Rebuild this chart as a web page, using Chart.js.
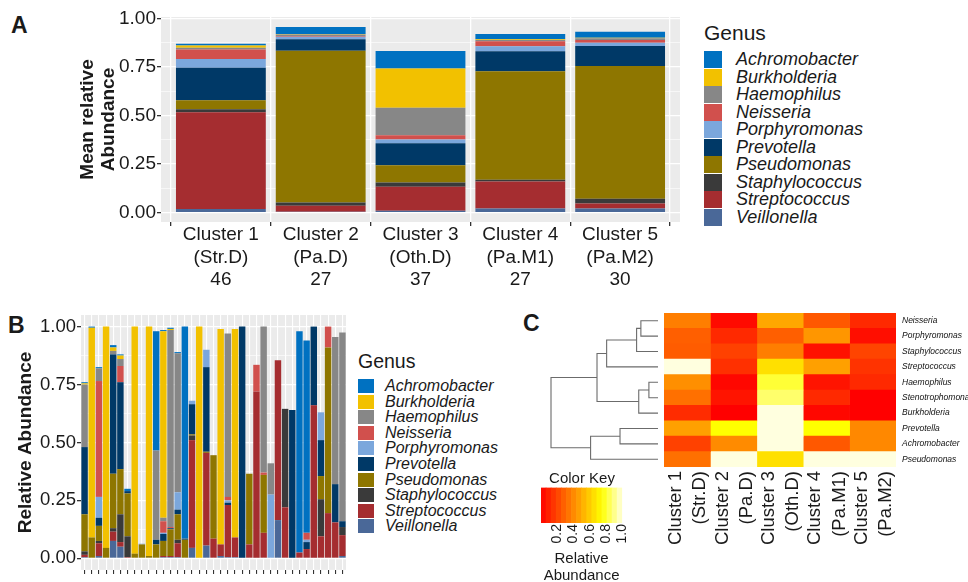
<!DOCTYPE html>
<html>
<head>
<meta charset="utf-8">
<script src="https://cdn.jsdelivr.net/npm/chart.js@4"></script>
<style>
  html, body { margin: 0; padding: 0; background: #fff; }
  #page { position: relative; width: 968px; height: 582px; overflow: hidden;
          font-family: "Liberation Sans", Arial, sans-serif; color: #1a1a1a; }
  canvas { position: absolute; }
  .tag { position: absolute; font-weight: bold; font-size: 23px; line-height: 1; }
  .legend { position: absolute; }
  .legend .ttl { position: absolute; left: 0; white-space: nowrap; }
  .legend .row { position: absolute; left: 0; display: flex; align-items: center; white-space: nowrap; font-style: italic; }
  .legend .sw { display: inline-block; }
</style>
</head>
<body>
<div id="page">
  <div class="tag" style="left:11px;top:14px">A</div>
  <div class="tag" style="left:8px;top:314px">B</div>
  <div class="tag" style="left:523px;top:312px">C</div>

  <canvas id="chartA" width="690" height="300" style="left:0;top:0"></canvas>
  <div id="legendA" class="legend" style="left:704px;top:0"></div>

  <canvas id="chartB" width="352" height="282" style="left:0;top:300px"></canvas>
  <div id="legendB" class="legend" style="left:358px;top:300px"></div>

  <canvas id="chartHeat" width="368" height="282" style="left:600px;top:300px"></canvas>
  <canvas id="chartTree" width="125" height="154" style="left:540px;top:313px"></canvas>
  <canvas id="chartKey" width="110" height="121" style="left:530px;top:465px"></canvas>
</div>

<script>
// ---- data ----
// stack order, bottom -> top (legend shows it reversed)
const genera = ["Veillonella", "Streptococcus", "Staphylococcus", "Pseudomonas", "Prevotella",
  "Porphyromonas", "Neisseria", "Haemophilus", "Burkholderia", "Achromobacter"];
const genusColors = ["#4a6898", "#a52d30", "#3a3a3a", "#8e7600", "#003967",
  "#7ba7dc", "#d1504d", "#878787", "#f2c100", "#0071c1"];

const clusterNames = ["Cluster 1", "Cluster 2", "Cluster 3", "Cluster 4", "Cluster 5"];
const clusterGroups = ["(Str.D)", "(Pa.D)", "(Oth.D)", "(Pa.M1)", "(Pa.M2)"];
const clusterSizes = [46, 27, 37, 27, 30];
const abundanceTicks = [0, 0.25, 0.5, 0.75, 1];

// A: mean relative abundance per cluster
const meanVeillonella    = [0.019, 0.005, 0.010, 0.022, 0.021];
const meanStreptococcus  = [0.498, 0.031, 0.124, 0.138, 0.026];
const meanStaphylococcus = [0.016, 0.016, 0.022, 0.010, 0.025];
const meanPseudomonas    = [0.046, 0.782, 0.088, 0.558, 0.683];
const meanPrevotella     = [0.167, 0.060, 0.114, 0.103, 0.103];
const meanPorphyromonas  = [0.046, 0.012, 0.019, 0.026, 0.017];
const meanNeisseria      = [0.048, 0.004, 0.022, 0.026, 0.014];
const meanHaemophilus    = [0.009, 0.008, 0.141, 0.007, 0.009];
const meanBurkholderia   = [0.012, 0.003, 0.203, 0.003, 0.003];
const meanAchromobacter  = [0.009, 0.035, 0.090, 0.028, 0.031];

// B: relative abundance per sample (37 samples)
const sampleVeillonella    = [0.005,0,0.01,0,0.075,0.05,0,0,0,0,0,0.005,0.005,0.005,0,0.045,0,0.055,0,0.01,0.005,0.005,0,0,0,0,0,0.165,0,0,0,0,0,0,0,0,0.01];
const sampleStreptococcus  = [0.01,0,0.055,0,0.04,0.02,0.005,0,0,0,0,0.005,0.005,0.06,0,0.465,0,0.40,0.085,0.05,0.225,0.085,0,0.06,0.72,0.11,0,0.69,0.22,0,0.025,0.04,0.66,0.095,0.195,0.155,0.09];
const sampleStaphylococcus = [0.015,0,0.01,0,0.015,0.12,0.09,0,0,0,0,0,0,0.015,0,0.02,0,0,0,0,0,0,0,0,0,0,0,0,0.425,0,0,0,0,0.16,0,0,0.035];
const samplePseudomonas    = [0.16,0.09,0.065,0.045,0.235,0.195,0.185,0.02,0.06,0.01,0.06,0.065,0.115,0.11,0.08,0.005,0,0.005,0.36,0,0,0,0,0.305,0,0.25,0,0,0,0,0,0,0,0.10,0.715,0,0];
const samplePrevotella     = [0.29,0,0.035,0,0.515,0.375,0.01,0,0,0,0.02,0.03,0.005,0.02,0.005,0.13,0,0.365,0,0,0.01,0,1.0,0,0,0,0,0,0,0.64,0,0.03,0.34,0.155,0,0.165,0.025];
const samplePorphyromonas  = [0,0,0.09,0,0,0,0,0,0.003,0,0,0.005,0,0.075,0,0.015,0,0.075,0,0,0.01,0,0,0,0,0,0.275,0,0,0,0,0.01,0,0.12,0,0,0];
const sampleNeisseria      = [0,0,0.5,0,0,0.07,0,0,0,0,0,0.05,0.005,0,0,0,0,0,0,0,0.015,0,0,0,0.115,0.01,0,0,0,0,0,0.03,0,0,0.09,0,0];
const sampleHaemophilus    = [0.27,0,0.055,0,0.015,0.03,0,0,0,0,0.385,0.015,0.85,0.60,0,0,0,0,0,0,0.705,0,0,0,0,0.63,0.135,0,0,0,0,0,0,0,0,0.635,0.815];
const sampleBurkholderia   = [0.005,0.905,0,0.955,0.015,0.015,0,0.98,0,0.99,0,0.805,0.005,0,0,0,1.0,0,0,0.93,0,0.90,0,0,0,0,0,0,0,0,0,0,0,0,0,0,0];
const sampleAchromobacter  = [0.005,0.005,0.005,0,0.01,0.005,0.01,0,0,0,0.515,0.005,0.005,0.005,0.915,0,0,0,0,0,0,0,0,0,0,0,0,0,0,0,0.955,0.83,0,0,0,0,0];

// C: heatmap (rows top -> bottom, columns = clusters)
const heatGenera = ["Neisseria", "Porphyromonas", "Staphylococcus", "Streptococcus", "Haemophilus",
  "Stenotrophomonas", "Burkholderia", "Prevotella", "Achromobacter", "Pseudomonas"];
const heatValues = [
  [0.37, 0.03, 0.49, 0.26, 0.12],
  [0.28, 0.12, 0.28, 0.44, 0.04],
  [0.27, 0.19, 0.37, 0.05, 0.20],
  [1.00, 0.14, 0.66, 0.47, 0.15],
  [0.42, 0.02, 0.81, 0.06, 0.12],
  [0.33, 0.06, 0.87, 0.12, 0.00],
  [0.13, 0.00, 1.00, 0.02, 0.00],
  [0.47, 0.75, 1.00, 0.75, 0.40],
  [0.19, 0.41, 1.00, 0.26, 0.40],
  [0.33, 1.00, 0.66, 1.00, 1.00]
];
// hclust style merges: negative = leaf (1-based row), positive = earlier merge; third = height
const treeMerges = [[-1, -2, 0.16], [1, -3, 0.20], [2, -4, 0.48], [-5, -6, 0.085], [4, -7, 0.18],
  [3, 5, 0.57], [-8, -9, 0.355], [7, -10, 0.63], [6, 8, 1.0]];
const keyTicks = [0.2, 0.4, 0.6, 0.8, 1.0];
const keyBands = 16;

const meanByGenus = [meanVeillonella, meanStreptococcus, meanStaphylococcus, meanPseudomonas, meanPrevotella,
  meanPorphyromonas, meanNeisseria, meanHaemophilus, meanBurkholderia, meanAchromobacter];
const sampleByGenus = [sampleVeillonella, sampleStreptococcus, sampleStaphylococcus, samplePseudomonas, samplePrevotella,
  samplePorphyromonas, sampleNeisseria, sampleHaemophilus, sampleBurkholderia, sampleAchromobacter];

// ---- helpers ----
const FONT = '"Liberation Sans", Arial, sans-serif';
const INK = "#1a1a1a";
Chart.defaults.font.family = FONT;
Chart.defaults.color = INK;
Chart.defaults.animation = false;

// heat.colors-like ramp: red -> yellow, then yellow -> pale
function heatColor(v) {
  if (v <= 0.75) return `rgb(255,${Math.round(255 * v / 0.75)},0)`;
  const s = 1 - (v - 0.75) / 0.25 * 0.875;
  return `rgb(255,255,${Math.round(255 * (1 - s))})`;
}

// grey ggplot panel
const panelBg = {
  id: "panelBg",
  beforeDraw(chart, args, opts) {
    if (!opts.color) return;
    const { ctx, chartArea: a } = chart;
    ctx.save();
    ctx.fillStyle = opts.color;
    ctx.fillRect(a.left, a.top, a.width, a.height);
    ctx.restore();
  }
};

const isMajor = v => abundanceTicks.some(t => Math.abs(t - v) < 1e-6);
const withMinors = () => {
  const out = [];
  abundanceTicks.forEach((t, i) => {
    out.push(t);
    if (i < abundanceTicks.length - 1) out.push((t + abundanceTicks[i + 1]) / 2);
  });
  return out;
};

function ggYAxis(min, max, width, title, titlePad, fontSize) {
  return {
    min, max, stacked: true,
    border: { display: false },
    afterBuildTicks: s => { s.ticks = withMinors().map(v => ({ value: v })); },
    afterFit: s => { s.width = width; },
    grid: {
      color: "#ffffff",
      lineWidth: c => (c.tick && isMajor(c.tick.value)) ? 1.3 : 0.6,
      tickColor: c => (c.tick && isMajor(c.tick.value)) ? "#333" : "rgba(0,0,0,0)",
      tickLength: 4
    },
    ticks: {
      autoSkip: false, padding: 1, color: INK,
      font: { size: fontSize },
      callback: v => isMajor(v) ? v.toFixed(2) : ""
    },
    title: {
      display: true, text: title, color: INK,
      font: { size: 19, weight: "bold", lineHeight: 1.1 },
      padding: { top: titlePad, bottom: 0 }
    }
  };
}

function buildLegend(el, o) {
  const t = document.createElement("div");
  t.className = "ttl";
  t.textContent = "Genus";
  t.style.fontSize = o.titleSize + "px";
  t.style.lineHeight = o.titleSize + "px";
  t.style.top = (o.titleY - o.titleSize / 2) + "px";
  el.appendChild(t);
  genera.slice().reverse().forEach((g, i) => {
    const r = document.createElement("div");
    r.className = "row";
    r.style.top = (o.firstY + i * o.pitch - o.pitch / 2) + "px";
    r.style.height = o.pitch + "px";
    r.style.fontSize = o.fontSize + "px";
    const sw = document.createElement("span");
    sw.className = "sw";
    sw.style.width = o.swW + "px";
    sw.style.height = o.swH + "px";
    sw.style.background = genusColors[genera.indexOf(g)];
    sw.style.marginRight = o.gap + "px";
    r.appendChild(sw);
    r.appendChild(document.createTextNode(g));
    el.appendChild(r);
  });
}

// ---- A: mean relative abundance per cluster ----
new Chart(document.getElementById("chartA"), {
  type: "bar",
  data: {
    datasets: genera.map((g, k) => ({
      label: g,
      data: meanByGenus[k].map((v, i) => ({ x: i, y: v })),
      backgroundColor: genusColors[k],
      borderWidth: 0,
      categoryPercentage: 1,
      barPercentage: 0.9
    }))
  },
  options: {
    responsive: false,
    layout: { padding: { left: 0, right: 10, top: 17, bottom: 0 } },
    plugins: { legend: { display: false }, tooltip: { enabled: false }, panelBg: { color: "#ebebeb" } },
    scales: {
      x: {
        type: "linear", min: -0.6, max: 4.6, offset: false, stacked: true,
        border: { display: false },
        afterBuildTicks: s => { s.ticks = clusterNames.map((_, i) => ({ value: i })); },
        afterFit: s => { s.height = 78; },
        grid: { color: "#ffffff", lineWidth: 1.3, tickColor: "#333", tickLength: 4 },
        ticks: {
          autoSkip: false, maxRotation: 0, minRotation: 0, padding: -2, color: INK,
          font: { size: 19, lineHeight: 1.17 },
          callback: (v, i) => [clusterNames[i], clusterGroups[i], String(clusterSizes[i])]
        }
      },
      y: ggYAxis(-0.048, 1.008, 161, ["Mean relative", "Abundance"], 77.5, 19)
    }
  },
  plugins: [panelBg]
});
buildLegend(document.getElementById("legendA"),
  { titleSize: 21, titleY: 32, firstY: 59.5, pitch: 17.5, fontSize: 18, swW: 18, swH: 17, gap: 14 });

// ---- B: relative abundance per sample ----
const sampleIds = sampleVeillonella.map((_, i) => "S" + (i + 1));
new Chart(document.getElementById("chartB"), {
  type: "bar",
  data: {
    labels: sampleIds,
    datasets: genera.map((g, k) => ({
      label: g,
      data: sampleByGenus[k],
      backgroundColor: genusColors[k],
      borderWidth: 0,
      categoryPercentage: 1,
      barPercentage: 0.9
    }))
  },
  options: {
    responsive: false,
    layout: { padding: { left: 0, right: 6, top: 15, bottom: 0 } },
    plugins: { legend: { display: false }, tooltip: { enabled: false }, panelBg: { color: "#ebebeb" } },
    scales: {
      x: {
        stacked: true, offset: true,
        border: { display: false },
        afterFit: s => { s.height = 4; },
        grid: { offset: false, color: "#ffffff", lineWidth: 1.1, tickColor: "#333", tickLength: 4 },
        ticks: { display: false }
      },
      y: ggYAxis(-0.05, 1.05, 81, "Relative Abundance", 15.5, 18.5)
    }
  },
  plugins: [panelBg]
});
buildLegend(document.getElementById("legendB"),
  { titleSize: 19.5, titleY: 62, firstY: 86, pitch: 15.6, fontSize: 16, swW: 16, swH: 14, gap: 11 });

// ---- C: heatmap ----
new Chart(document.getElementById("chartHeat"), {
  type: "bar",
  data: {
    labels: heatGenera,
    datasets: clusterNames.map((c, j) => ({
      label: c,
      data: heatGenera.map(() => 1),
      backgroundColor: ctx => heatColor(heatValues[ctx.dataIndex][j]),
      borderWidth: 0,
      categoryPercentage: 1,
      barPercentage: 1
    }))
  },
  options: {
    responsive: false,
    indexAxis: "y",
    layout: { padding: { left: 64, right: 0, top: 13, bottom: 0 } },
    plugins: { legend: { display: false }, tooltip: { enabled: false } },
    scales: {
      x: {
        type: "linear", min: 0, max: clusterNames.length, stacked: true,
        border: { display: false },
        grid: { display: false, drawTicks: false },
        afterBuildTicks: s => { s.ticks = clusterNames.map((_, i) => ({ value: i + 0.5 })); },
        afterFit: s => { s.height = 115; },
        ticks: {
          autoSkip: false, minRotation: 90, maxRotation: 90, padding: 4, labelOffset: -11,
          color: INK, font: { size: 18.5, lineHeight: 1.3 },
          callback: (v, i) => [clusterNames[i], clusterGroups[i]]
        }
      },
      y: {
        stacked: true, position: "right", offset: true,
        border: { display: false },
        grid: { display: false, drawTicks: false },
        afterFit: s => { s.width = 72; },
        ticks: { autoSkip: false, padding: 6, color: "#111", font: { size: 8.5, style: "italic" } }
      }
    }
  }
});

// dendrogram links built from the merge table
function treeLinks() {
  const nodes = [];
  const pos = k => k < 0 ? { x: 0, y: -k - 0.5 } : nodes[k - 1];
  return treeMerges.map(([a, b, h]) => {
    const p = pos(a), q = pos(b);
    nodes.push({ x: h, y: (p.y + q.y) / 2 });
    return [{ x: p.x, y: p.y }, { x: h, y: p.y }, { x: h, y: q.y }, { x: q.x, y: q.y }];
  });
}
new Chart(document.getElementById("chartTree"), {
  type: "scatter",
  data: {
    datasets: treeLinks().map(pts => ({
      data: pts, showLine: true, pointRadius: 0, borderColor: "#6b6b6b", borderWidth: 1.1,
      tension: 0, clip: false
    }))
  },
  options: {
    responsive: false,
    layout: { padding: { left: 11, right: 7, top: 0, bottom: 0 } },
    plugins: { legend: { display: false }, tooltip: { enabled: false } },
    scales: {
      x: { type: "linear", min: 0, max: 1, reverse: true, display: false },
      y: { type: "linear", min: 0, max: heatGenera.length, reverse: true, display: false }
    }
  }
});

// colour key
const keyData = Array.from({ length: keyBands }, (_, i) => ({ x: (i + 0.5) / keyBands, y: 1 }));
new Chart(document.getElementById("chartKey"), {
  type: "bar",
  data: {
    datasets: [{
      data: keyData,
      backgroundColor: ctx => heatColor(keyData[ctx.dataIndex].x),
      borderWidth: 0, categoryPercentage: 1, barPercentage: 1
    }]
  },
  options: {
    responsive: false,
    layout: { padding: { left: 11, right: 17, top: 0, bottom: 0 } },
    plugins: {
      legend: { display: false }, tooltip: { enabled: false },
      title: { display: true, text: "Color Key", color: INK, font: { size: 15, weight: "normal", lineHeight: 1.1 },
               padding: { top: 6, bottom: 0 } }
    },
    scales: {
      x: {
        type: "linear", min: 0, max: 1, offset: false,
        border: { display: false },
        grid: { display: false, drawTicks: false },
        afterBuildTicks: s => { s.ticks = keyTicks.map(v => ({ value: v })); },
        afterFit: s => { s.height = 63; },
        ticks: {
          autoSkip: false, minRotation: 90, maxRotation: 90, padding: 1, color: INK,
          font: { size: 14 },
          callback: v => v.toFixed(1)
        },
        title: { display: true, text: ["Relative", "Abundance"], color: INK,
                 font: { size: 15, lineHeight: 1.13 }, padding: { top: 0, bottom: 1.5 } }
      },
      y: { min: 0, max: 1, display: false }
    }
  }
});
</script>
</body>
</html>
